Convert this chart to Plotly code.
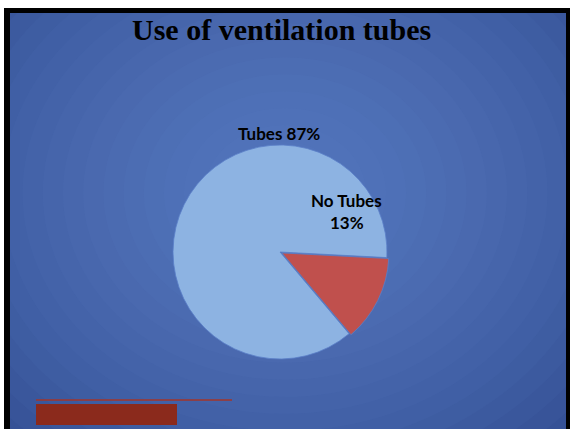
import plotly.graph_objects as go

labels = ["No Tubes", "Tubes"]
values = [13, 87]
colors = ["#c0504d", "#8db3e2"]
title_text = "Use of ventilation tubes"

W, H = 570, 429

def px(x):
    return x / W

def py(y):
    return 1 - y / H

fig = go.Figure()

# pie (centre ~ (280,252), radius ~107)
pull = [0.02, 0.0]
cx, cy, r = 280, 252, 107
rr = r * (1 + max(pull))
fig.add_trace(go.Pie(
    labels=labels, values=values, sort=False, direction="clockwise",
    rotation=93, pull=pull, textinfo="none", hoverinfo="label+percent",
    marker=dict(colors=colors, line=dict(color="#5a7fc8", width=0.8)),
    domain=dict(x=[px(cx - rr), px(cx + rr)], y=[py(cy + rr), py(cy - rr)]),
    showlegend=False,
))

shapes = []
# radial-ish gradient background
n = 24
for i in range(n):
    f = 1 - i / n
    shapes.append(dict(type="circle", xref="paper", yref="paper", layer="below",
                       x0=0.5 - 0.85 * f, x1=0.5 + 0.85 * f,
                       y0=0.55 - 0.95 * f, y1=0.55 + 0.95 * f,
                       fillcolor="rgba(105,140,215,0.055)", line=dict(width=0)))
# white top strip and black frame
shapes.append(dict(type="rect", xref="paper", yref="paper", x0=0, x1=1, y0=py(8), y1=1,
                   fillcolor="white", line=dict(width=0)))
shapes.append(dict(type="rect", xref="paper", yref="paper", x0=0, x1=1, y0=py(13), y1=py(8),
                   fillcolor="black", line=dict(width=0)))
shapes.append(dict(type="rect", xref="paper", yref="paper", x0=px(4), x1=px(10), y0=0, y1=py(8),
                   fillcolor="black", line=dict(width=0)))
shapes.append(dict(type="rect", xref="paper", yref="paper", x0=px(566), x1=1, y0=0, y1=py(8),
                   fillcolor="black", line=dict(width=0)))
shapes.append(dict(type="rect", xref="paper", yref="paper", x0=0, x1=px(4), y0=0, y1=py(8),
                   fillcolor="white", line=dict(width=0)))
# footer line and box
shapes.append(dict(type="line", xref="paper", yref="paper", x0=px(36), x1=px(232), y0=py(400), y1=py(400),
                   line=dict(color="#a3342a", width=1.5)))
shapes.append(dict(type="rect", xref="paper", yref="paper", x0=px(36), x1=px(177), y0=py(425), y1=py(404),
                   fillcolor="#8b2a1c", line=dict(width=0)))

lab_font = dict(family="Lato, Liberation Sans, sans-serif", size=17, color="black")
common = dict(xref="paper", yref="paper", showarrow=False, xanchor="center", yanchor="middle")
annotations = [
    dict(text="<b>%s</b>" % title_text, x=px(281), y=py(30),
         font=dict(family="Liberation Serif, serif", size=30, color="black"), **common),
    dict(text="<b>%s %d%%</b>" % (labels[1], values[1]), x=px(279), y=py(133), font=lab_font, **common),
    dict(text="<b>%s</b>" % labels[0], x=px(346), y=py(200), font=lab_font, **common),
    dict(text="<b>%d%%</b>" % values[0], x=px(347), y=py(222), font=lab_font, **common),
]

fig.update_layout(
    width=W, height=H, margin=dict(l=0, r=0, t=0, b=0),
    paper_bgcolor="#263f82", plot_bgcolor="#263f82",
    shapes=shapes, annotations=annotations,
)

fig.write_html("out.html", config={"displayModeBar": False},
               post_script="document.body.style.margin='0';")
